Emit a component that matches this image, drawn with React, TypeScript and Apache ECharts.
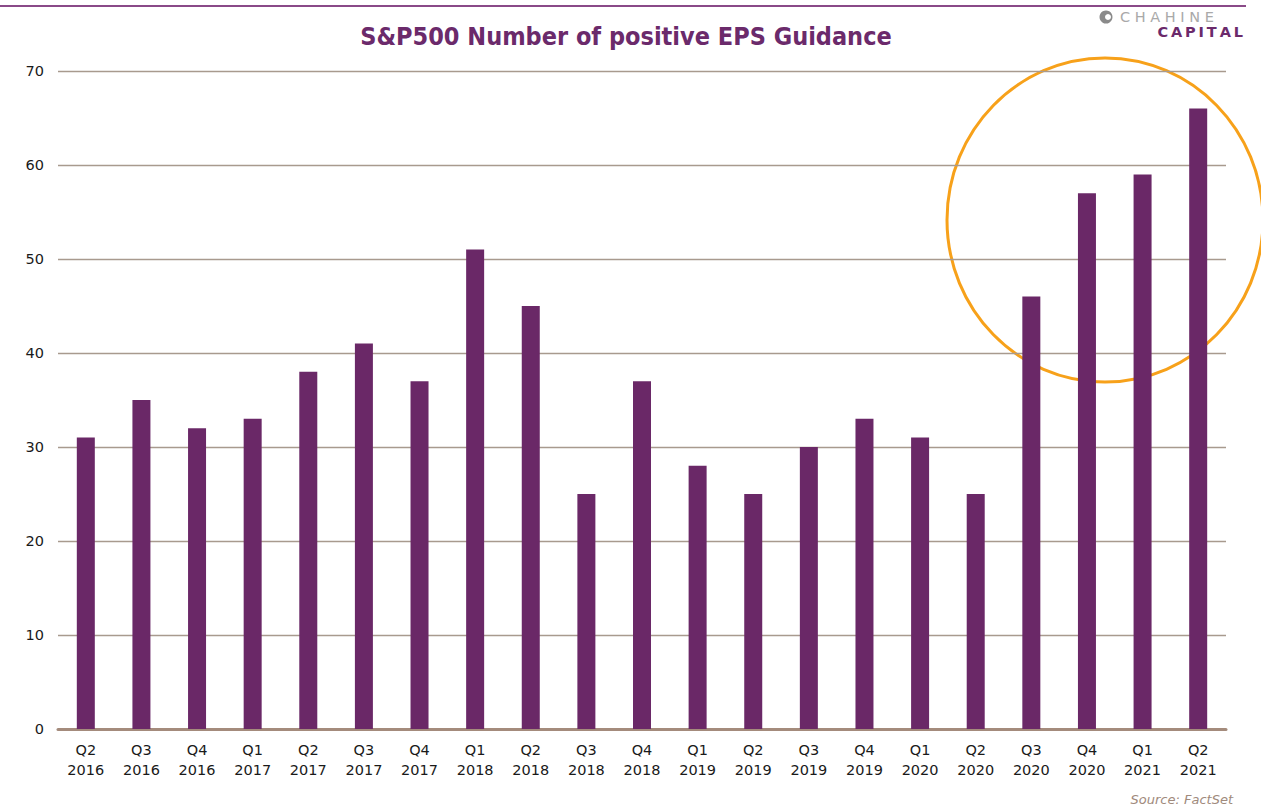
import React, { useEffect, useRef } from "react";
import * as echarts from "echarts";

const quarters = ["Q2","Q3","Q4","Q1","Q2","Q3","Q4","Q1","Q2","Q3","Q4","Q1","Q2","Q3","Q4","Q1","Q2","Q3","Q4","Q1","Q2"];
const years = ["2016","2016","2016","2017","2017","2017","2017","2018","2018","2018","2018","2019","2019","2019","2019","2020","2020","2020","2020","2021","2021"];
const positiveGuidance = [31,35,32,33,38,41,37,51,45,25,37,28,25,30,33,31,25,46,57,59,66];
const yTicks = [0, 10, 20, 30, 40, 50, 60, 70];
const logoTop = "CHAHINE";
const logoBottom = "CAPITAL";

export default function App() {
  const ref = useRef<HTMLDivElement>(null);
  useEffect(() => {
    const chart = echarts.init(ref.current!, null, { renderer: "svg" });
    const categories = quarters.map((q, i) => `${q}\n${years[i]}`);
    chart.setOption({
      animation: false,
      backgroundColor: "#ffffff",
      title: {
        text: "S&P500 Number of positive EPS Guidance",
        left: 621,
        top: 19,
        textAlign: "center",
        textStyle: { fontFamily: "DejaVu Sans Condensed", fontWeight: "bold", fontSize: 25, color: "#6b2a6b" },
      },
      grid: { left: 58, right: 35, top: 71, bottom: 83, containLabel: false },
      xAxis: {
        type: "category",
        data: categories,
        axisLine: { lineStyle: { color: "#a48b7c", width: 3 } },
        axisTick: { show: false },
        axisLabel: { color: "#1a1a1a", fontFamily: "DejaVu Sans", fontSize: 14.5, lineHeight: 20, margin: 11 },
      },
      yAxis: {
        type: "value",
        min: yTicks[0],
        max: yTicks[yTicks.length - 1],
        interval: 10,
        axisLine: { show: false },
        axisTick: { show: false },
        axisLabel: { color: "#1a1a1a", fontFamily: "DejaVu Sans", fontSize: 14.5, margin: 14 },
        splitLine: { lineStyle: { color: "#a89a8e", width: 1.3 } },
      },
      series: [
        {
          type: "bar",
          data: positiveGuidance,
          barWidth: 18,
          itemStyle: { color: "#6a2867" },
        },
      ],
      graphic: [
        { type: "line", shape: { x1: 0, y1: 6, x2: 1246, y2: 6 }, style: { stroke: "#8a4a88", lineWidth: 2 } },
        { type: "ellipse", shape: { cx: 1105, cy: 220, rx: 158, ry: 162 }, style: { fill: "none", stroke: "#f7a11a", lineWidth: 3 } },
        { type: "circle", shape: { cx: 1106, cy: 17, r: 6.5 }, style: { fill: "#8a8a8a" } },
        { type: "circle", shape: { cx: 1108, cy: 17, r: 3 }, style: { fill: "#ffffff" } },
        { type: "text", x: 1120, y: 9, style: { text: logoTop.split("").join(" "), fill: "#a9a9a9", fontFamily: "DejaVu Sans", fontSize: 14.5 } },
        { type: "text", x: 1243, y: 24, style: { text: logoBottom.split("").join("\u2009"), fill: "#6b2a6b", fontFamily: "DejaVu Sans", fontWeight: "bold", fontSize: 14.5, align: "right" } },
        { type: "text", x: 1233, y: 793, style: { text: "Source: FactSet", fill: "#a08a7c", fontFamily: "DejaVu Sans", fontStyle: "italic", fontSize: 13, align: "right" } },
      ],
    });
    return () => chart.dispose();
  }, []);
  return <div ref={ref} style={{ width: 1261, height: 812, position: "absolute", left: 0, top: 0 }} />;
}
